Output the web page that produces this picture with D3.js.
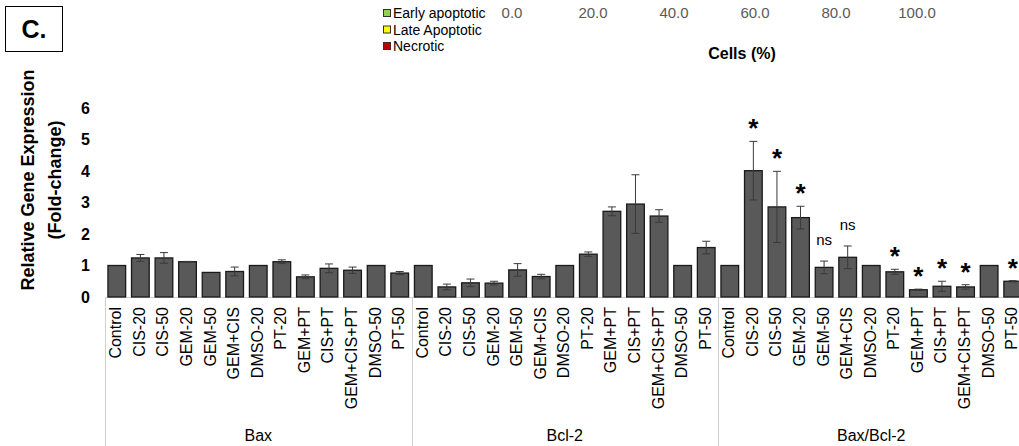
<!DOCTYPE html>
<meta charset="utf-8">

<!-- Load d3.js -->
<script src="https://d3js.org/d3.v7.min.js"></script>

<style>
  body { margin: 0; background: #fff; }
  svg { display: block; font-family: Arial, "Liberation Sans", sans-serif; }
</style>

<!-- Create a div where the graph will take place -->
<div id="geneExpression"></div>

<script>

// chart values
var groups = ["Bax", "Bcl-2", "Bax/Bcl-2"];
var treatments = ["Control", "CIS-20", "CIS-50", "GEM-20", "GEM-50", "GEM+CIS", "DMSO-20",
                  "PT-20", "GEM+PT", "CIS+PT", "GEM+CIS+PT", "DMSO-50", "PT-50"];

var baxValues  = [1.00, 1.24, 1.24, 1.12, 0.78, 0.81, 1.00, 1.12, 0.64, 0.91, 0.85, 1.00, 0.76];
var baxErrors  = [0, 0.11, 0.17, 0.01, 0, 0.14, 0, 0.06, 0.06, 0.14, 0.10, 0, 0.05];

var bcl2Values = [1.00, 0.32, 0.45, 0.44, 0.86, 0.65, 1.00, 1.36, 2.72, 2.95, 2.57, 1.00, 1.57];
var bcl2Errors = [0, 0.09, 0.12, 0.06, 0.20, 0.07, 0, 0.07, 0.14, 0.93, 0.20, 0, 0.20];

var ratioValues = [1.00, 4.01, 2.86, 2.52, 0.94, 1.26, 1.00, 0.80, 0.23, 0.34, 0.32, 1.00, 0.50];
var ratioErrors = [0, 0.93, 1.13, 0.36, 0.20, 0.36, 0, 0.08, 0.02, 0.16, 0.07, 0, 0.02];
var ratioMarks  = ["", "*", "*", "*", "ns", "ns", "", "*", "*", "*", "*", "", "*"];

var yTicks = [0, 1, 2, 3, 4, 5, 6];
var cellTicks = [0, 20, 40, 60, 80, 100];
var legendLabels = ["Early apoptotic", "Late Apoptotic", "Necrotic"];
var legendColors = ["#92d050", "#ffff00", "#c00000"];

// flatten into one row per bar
var seriesValues = [baxValues, bcl2Values, ratioValues];
var seriesErrors = [baxErrors, bcl2Errors, ratioErrors];
var data = [];
groups.forEach(function(g, gi) {
  treatments.forEach(function(t, ti) {
    data.push({
      key: g + "|" + t,
      group: g,
      label: t,
      value: seriesValues[gi][ti],
      err: seriesErrors[gi][ti],
      mark: gi == 2 ? ratioMarks[ti] : ""
    });
  });
});

// set the dimensions of the graph
var width = 1019, height = 446;
var plotLeft = 105, plotRight = 1024.5, plotBottom = 297, plotTop = 108;

var svg = d3.select("#geneExpression")
  .append("svg")
    .attr("width", width)
    .attr("height", height);

// X scale: one band per bar
var x = d3.scaleBand()
  .domain(data.map(function(d) { return d.key; }))
  .range([plotLeft, plotRight])
  .paddingInner(0.25)
  .paddingOuter(0.125);

// group scale for the second label row
var xGroup = d3.scaleBand()
  .domain(groups)
  .range([plotLeft, plotRight]);

// Y scale
var y = d3.scaleLinear()
  .domain([0, 6])
  .range([plotBottom, plotTop]);

// Y axis, labels only
var yAxis = svg.append("g")
  .attr("transform", "translate(" + (plotLeft - 8) + ",0)")
  .call(d3.axisLeft(y).tickValues(yTicks).tickSize(0).tickPadding(7).tickFormat(d3.format("d")));
yAxis.select(".domain").remove();
yAxis.selectAll("text")
  .style("font-family", "Arial, 'Liberation Sans', sans-serif")
  .style("font-size", "16px")
  .style("font-weight", "bold")
  .style("fill", "#000");

// Y axis title
var yTitle = svg.append("text")
  .attr("transform", "translate(0,180) rotate(-90)")
  .attr("text-anchor", "middle")
  .style("font-size", "18px")
  .style("font-weight", "bold");
yTitle.append("tspan").attr("x", 0).attr("y", 34).text("Relative Gene Expression");
yTitle.append("tspan").attr("x", 0).attr("y", 61).text("(Fold-change)");

// category axis lines
svg.append("line")
  .attr("x1", plotLeft).attr("x2", width)
  .attr("y1", plotBottom + 0.5).attr("y2", plotBottom + 0.5)
  .style("stroke", "#d0d0d0");

svg.selectAll(".groupLine")
  .data(groups)
  .enter()
  .append("line")
    .attr("class", "groupLine")
    .attr("x1", function(d) { return Math.round(xGroup(d)) + 0.5; })
    .attr("x2", function(d) { return Math.round(xGroup(d)) + 0.5; })
    .attr("y1", plotBottom)
    .attr("y2", height)
    .style("stroke", "#d0d0d0");

// treatment labels, rotated
svg.selectAll(".catLabel")
  .data(data)
  .enter()
  .append("text")
    .attr("class", "catLabel")
    .attr("transform", function(d) {
      return "translate(" + (x(d.key) + x.bandwidth() / 2 + 4.5) + "," + (plotBottom + 10) + ") rotate(-90)";
    })
    .attr("text-anchor", "end")
    .style("font-size", "16px")
    .style("fill", "#000")
    .text(function(d) { return d.label; });

// group labels
svg.selectAll(".groupLabel")
  .data(groups)
  .enter()
  .append("text")
    .attr("class", "groupLabel")
    .attr("x", function(d) { return xGroup(d) + xGroup.bandwidth() / 2; })
    .attr("y", 441)
    .attr("text-anchor", "middle")
    .style("font-size", "16px")
    .text(function(d) { return d; });

// bars
svg.selectAll(".bar")
  .data(data)
  .enter()
  .append("rect")
    .attr("class", "bar")
    .attr("x", function(d) { return x(d.key); })
    .attr("y", function(d) { return y(d.value); })
    .attr("width", x.bandwidth())
    .attr("height", function(d) { return y(0) - y(d.value); })
    .style("fill", "#595959")
    .style("stroke", "#1a1a1a")
    .style("stroke-width", 1.3);

// error bars
var withErr = data.filter(function(d) { return d.err > 0; });
var errG = svg.append("g").style("stroke", "#3a3a3a").style("stroke-width", 1);

errG.selectAll(".errLine")
  .data(withErr)
  .enter()
  .append("line")
    .attr("x1", function(d) { return x(d.key) + x.bandwidth() / 2; })
    .attr("x2", function(d) { return x(d.key) + x.bandwidth() / 2; })
    .attr("y1", function(d) { return y(d.value - d.err); })
    .attr("y2", function(d) { return y(d.value + d.err); });

errG.selectAll(".capTop")
  .data(withErr)
  .enter()
  .append("line")
    .attr("x1", function(d) { return x(d.key) + x.bandwidth() / 2 - 4; })
    .attr("x2", function(d) { return x(d.key) + x.bandwidth() / 2 + 4; })
    .attr("y1", function(d) { return y(d.value + d.err); })
    .attr("y2", function(d) { return y(d.value + d.err); });

errG.selectAll(".capBottom")
  .data(withErr)
  .enter()
  .append("line")
    .attr("x1", function(d) { return x(d.key) + x.bandwidth() / 2 - 4; })
    .attr("x2", function(d) { return x(d.key) + x.bandwidth() / 2 + 4; })
    .attr("y1", function(d) { return y(d.value - d.err); })
    .attr("y2", function(d) { return y(d.value - d.err); });

// significance marks
svg.selectAll(".sigMark")
  .data(data.filter(function(d) { return d.mark != ""; }))
  .enter()
  .append("text")
    .attr("class", "sigMark")
    .attr("x", function(d) { return x(d.key) + x.bandwidth() / 2; })
    .attr("y", function(d) { return y(d.value + d.err) - (d.mark == "*" ? 4 : 16); })
    .attr("text-anchor", "middle")
    .style("font-size", function(d) { return d.mark == "*" ? "26px" : "15px"; })
    .style("font-weight", function(d) { return d.mark == "*" ? "bold" : "normal"; })
    .text(function(d) { return d.mark; });

// panel letter
svg.append("rect")
  .attr("x", 5.5).attr("y", 6.5)
  .attr("width", 57).attr("height", 45)
  .style("fill", "none")
  .style("stroke", "#000");
svg.append("text")
  .attr("x", 34).attr("y", 38)
  .attr("text-anchor", "middle")
  .style("font-size", "25px")
  .style("font-weight", "bold")
  .text("C.");

// legend of the (cropped) apoptosis chart
var legend = svg.selectAll(".legendItem")
  .data(legendLabels)
  .enter()
  .append("g")
    .attr("class", "legendItem")
    .attr("transform", function(d, i) { return "translate(383," + (13 + i * 16.5) + ")"; });
legend.append("rect")
  .attr("x", 0.5).attr("y", -3.5)
  .attr("width", 7).attr("height", 7)
  .style("fill", function(d, i) { return legendColors[i]; })
  .style("stroke", "#333");
legend.append("text")
  .attr("x", 10).attr("y", 5)
  .style("font-size", "14px")
  .text(function(d) { return d; });

// Cells (%) axis labels
var xCells = d3.scaleLinear().domain([0, 100]).range([512, 917]);
svg.selectAll(".cellTick")
  .data(cellTicks)
  .enter()
  .append("text")
    .attr("class", "cellTick")
    .attr("x", function(d) { return xCells(d); })
    .attr("y", 18)
    .attr("text-anchor", "middle")
    .style("font-size", "15px")
    .style("fill", "#595959")
    .text(function(d) { return d3.format(".1f")(d); });

svg.append("text")
  .attr("x", 742).attr("y", 59)
  .attr("text-anchor", "middle")
  .style("font-size", "16px")
  .style("font-weight", "bold")
  .text("Cells (%)");

</script>
